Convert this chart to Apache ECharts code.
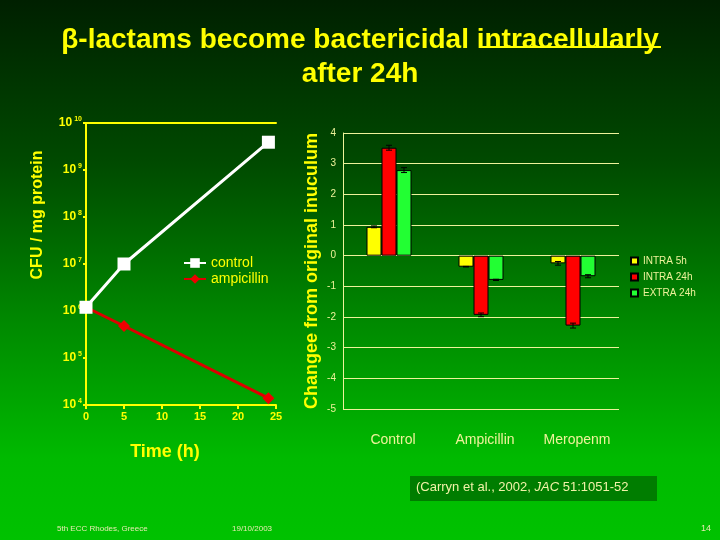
<!DOCTYPE html>
<html>
<head>
<meta charset="utf-8">
<script src="https://cdn.jsdelivr.net/npm/echarts@6/dist/echarts.min.js"></script>
<style>
  html, body { margin: 0; padding: 0; }
  #chart {
    width: 720px; height: 540px;
    background: linear-gradient(to bottom, #002000 0%, #004a00 30%, #008a00 60%, #00ba00 85%, #00c200 100%);
  }
</style>
</head>
<body>
<div id="chart"></div>
<script>
// left chart: CFU per mg protein over time (log scale)
const timeHours = [0, 5, 24];
const controlCfu = [1.2e6, 1.0e7, 3.9e9];
const ampicillinCfu = [1.2e6, 4.8e5, 1.4e4];

// right chart: change from original inoculum (log units)
const drugs = ['Control', 'Ampicillin', 'Meropenm'];
const intra5h = [0.94, -0.36, -0.25];
const intra24h = [3.52, -1.93, -2.28];
const extra24h = [2.79, -0.79, -0.67];
const intra5hErr = [0.03, 0.01, 0.06];
const intra24hErr = [0.08, 0.06, 0.08];
const extra24hErr = [0.08, 0.02, 0.05];

const YEL = '#ffff00';
const PALE = '#eef29a';
const BAR_W = 15;

const chart = echarts.init(document.getElementById('chart'));

const errData = [];
[[intra5h, intra5hErr], [intra24h, intra24hErr], [extra24h, extra24hErr]].forEach(function (pair, s) {
    pair[0].forEach(function (v, i) {
        errData.push([i, v - pair[1][i], v + pair[1][i], s]);
    });
});

function pairs(xs, ys) {
    return xs.map(function (x, i) { return [x, ys[i]]; });
}

chart.setOption({
    backgroundColor: 'transparent',
    textStyle: { fontFamily: 'Liberation Sans, Arial, sans-serif' },
    title: {
        text: 'β-lactams become bactericidal intracellularly\nafter 24h',
        left: 'center',
        top: 18,
        textStyle: { color: YEL, fontSize: 28, fontWeight: 'bold', lineHeight: 34 }
    },
    legend: [
        {
            data: ['control', 'ampicillin'],
            orient: 'vertical',
            left: 178, top: 251,
            itemWidth: 22, itemHeight: 12, itemGap: 2,
            textStyle: { color: YEL, fontSize: 14 }
        },
        {
            data: ['INTRA 5h', 'INTRA 24h', 'EXTRA 24h'],
            orient: 'vertical',
            left: 625, top: 251,
            icon: 'rect',
            itemWidth: 7, itemHeight: 7, itemGap: 6,
            textStyle: { color: PALE, fontSize: 10 }
        }
    ],
    grid: [
        { left: 86, top: 123, width: 190, height: 282 },
        { left: 343, top: 133, width: 276, height: 276 }
    ],
    xAxis: [
        {
            gridIndex: 0, type: 'value', min: 0, max: 25, interval: 5,
            name: 'Time (h)', nameLocation: 'middle', nameGap: 38,
            nameTextStyle: { color: YEL, fontSize: 18, fontWeight: 'bold', padding: [0, 32, 0, 0] },
            axisLine: { lineStyle: { color: YEL, width: 2 } },
            axisTick: { lineStyle: { color: YEL, width: 2 }, length: 4 },
            axisLabel: { color: YEL, fontSize: 11, fontWeight: 'bold', margin: 6 },
            splitLine: { show: false }
        },
        {
            gridIndex: 1, type: 'category', data: drugs,
            axisLine: { show: false, onZero: false },
            axisTick: { show: false },
            axisLabel: { color: PALE, fontSize: 14, margin: 24, padding: [0, 0, 0, 8] }
        },
        {
            gridIndex: 0, type: 'value', min: 0, max: 25, position: 'top',
            axisLine: { lineStyle: { color: YEL, width: 2 } },
            axisTick: { show: false }, axisLabel: { show: false }, splitLine: { show: false }
        }
    ],
    yAxis: [
        {
            gridIndex: 0, type: 'log', logBase: 10, min: 1e4, max: 1e10,
            name: 'CFU / mg protein', nameLocation: 'middle', nameGap: 40,
            nameTextStyle: { color: YEL, fontSize: 16, fontWeight: 'bold', padding: [0, 0, 0, 98] },
            axisLine: { lineStyle: { color: YEL, width: 2 } },
            axisTick: { lineStyle: { color: YEL, width: 2 }, length: 3 },
            axisLabel: {
                margin: 4,
                formatter: function (v) {
                    return '{b|10}{s|' + Math.round(Math.log10(v)) + '}';
                },
                rich: {
                    b: { color: YEL, fontSize: 12, fontWeight: 'bold' },
                    s: { color: YEL, fontSize: 7, fontWeight: 'bold', padding: [0, 0, 7, 2] }
                }
            },
            splitLine: { show: false }
        },
        {
            gridIndex: 1, type: 'value', min: -5, max: 4, interval: 1,
            name: 'Changee from original inuculum', nameLocation: 'middle', nameGap: 22,
            nameTextStyle: { color: YEL, fontSize: 18, fontWeight: 'bold' },
            axisLine: { show: true, lineStyle: { color: PALE, width: 1 } },
            axisTick: { show: false },
            axisLabel: { color: PALE, fontSize: 10, margin: 7 },
            splitLine: { lineStyle: { color: PALE, width: 1 } }
        },
        {
            gridIndex: 0, type: 'value', position: 'right', min: 0, max: 1,
            axisLine: { show: true, lineStyle: { color: YEL, width: 2 } },
            axisTick: { show: false }, axisLabel: { show: false }, splitLine: { show: false }
        }
    ],
    series: [
        {
            name: 'control', type: 'line', xAxisIndex: 0, yAxisIndex: 0,
            data: pairs(timeHours, controlCfu),
            symbol: 'rect', symbolSize: 13,
            lineStyle: { color: '#ffffff', width: 3 },
            itemStyle: { color: '#ffffff' },
            z: 4
        },
        {
            name: 'ampicillin', type: 'line', xAxisIndex: 0, yAxisIndex: 0,
            data: pairs(timeHours, ampicillinCfu),
            symbol: 'diamond', symbolSize: 12,
            lineStyle: { color: '#dd0000', width: 3 },
            itemStyle: { color: '#ee0000' },
            z: 3
        },
        {
            name: 'INTRA 5h', type: 'bar', xAxisIndex: 1, yAxisIndex: 1,
            data: intra5h, barWidth: BAR_W, barGap: '0%',
            itemStyle: { color: '#ffff00', borderColor: '#000', borderWidth: 1 }
        },
        {
            name: 'INTRA 24h', type: 'bar', xAxisIndex: 1, yAxisIndex: 1,
            data: intra24h, barWidth: BAR_W, barGap: '0%',
            itemStyle: { color: '#ff0000', borderColor: '#000', borderWidth: 1 }
        },
        {
            name: 'EXTRA 24h', type: 'bar', xAxisIndex: 1, yAxisIndex: 1,
            data: extra24h, barWidth: BAR_W, barGap: '0%',
            itemStyle: { color: '#22ff33', borderColor: '#000', borderWidth: 1 }
        },
        {
            type: 'custom', xAxisIndex: 1, yAxisIndex: 1,
            data: errData,
            encode: { x: 0, y: [1, 2] },
            z: 5,
            renderItem: function (params, api) {
                const x = api.coord([api.value(0), 0])[0] + (api.value(3) - 1) * BAR_W;
                const yLo = api.coord([api.value(0), api.value(1)])[1];
                const yHi = api.coord([api.value(0), api.value(2)])[1];
                const st = { stroke: '#000', lineWidth: 1 };
                return {
                    type: 'group',
                    children: [
                        { type: 'line', shape: { x1: x, y1: yLo, x2: x, y2: yHi }, style: st },
                        { type: 'line', shape: { x1: x - 3, y1: yLo, x2: x + 3, y2: yLo }, style: st },
                        { type: 'line', shape: { x1: x - 3, y1: yHi, x2: x + 3, y2: yHi }, style: st }
                    ]
                };
            }
        }
    ],
    graphic: [
        // underline under "intracellularly"
        { type: 'line', shape: { x1: 479, y1: 47, x2: 661, y2: 47 }, style: { stroke: YEL, lineWidth: 2 } },
        {
            type: 'group', left: 410, top: 476,
            children: [
                { type: 'rect', shape: { x: 0, y: 0, width: 247, height: 25 }, style: { fill: '#007d00' } },
                {
                    type: 'text', x: 6, y: 5,
                    style: {
                        text: '{n|(Carryn et al., 2002, }{i|JAC}{n| 51:1051-52}',
                        rich: {
                            n: { fill: '#f2f2a8', fontSize: 13 },
                            i: { fill: '#f2f2a8', fontSize: 13, fontStyle: 'italic' }
                        }
                    }
                }
            ]
        },
        { type: 'text', left: 57, top: 525, style: { text: '5th ECC Rhodes, Greece', fill: '#e6eab0', fontSize: 8 } },
        { type: 'text', left: 232, top: 525, style: { text: '19/10/2003', fill: '#e6eab0', fontSize: 8 } },
        { type: 'text', right: 9, top: 524, style: { text: '14', fill: '#e6eab0', fontSize: 9 } }
    ]
});
</script>
</body>
</html>
